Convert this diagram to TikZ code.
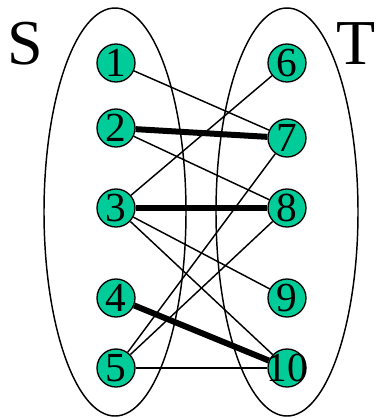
\documentclass[tikz,border=0pt]{standalone}
\usepackage{fontspec}
\setmainfont{Liberation Serif}
\usetikzlibrary{positioning}
\definecolor{vgreen}{RGB}{0,204,153}

\begin{document}
\begin{tikzpicture}[
  x=0.75pt, y=-0.75pt,
  vert/.style={draw, circle, fill=vgreen, line width=1pt, minimum size=28.5pt, inner sep=0pt,
    label={[font=\fontsize{31}{31}\selectfont, inner sep=0pt]center:#1}},
  edge/.style={line width=1.1pt},
  match/.style={line width=4.5pt},
  part/.style={draw, line width=1.1pt}
]
\useasboundingbox (0,0) rectangle (380,418);

% the two sides
\draw[part] (115,212) ellipse [x radius=71, y radius=204];
\draw[part] (287,212) ellipse [x radius=71, y radius=204];
\node[font=\fontsize{48}{48}\selectfont] (S) at (25,44) {S};
\node[font=\fontsize{48}{48}\selectfont] (T) at (356,44) {T};

% vertices
\node[vert=1] (v1) at (116,63) {};
\node[vert=2] (v2) at (116,128) {};
\node[vert=3] (v3) at (116,208) {};
\node[vert=4] (v4) at (116,298) {};
\node[vert=5] (v5) at (116,368) {};
\node[vert=6] (v6) at (287,63) {};
\node[vert=7] (v7) at (287,138) {};
\node[vert=8] (v8) at (287,208) {};
\node[vert=9] (v9) at (287,298) {};
\node[vert=10] (v10) at (287,368) {};

% edges
\draw[edge] (v1) -- (v7);
\draw[edge] (v2) -- (v8);
\draw[edge] (v3) -- (v6);
\draw[edge] (v3) -- (v9);
\draw[edge] (v3) -- (v10);
\draw[edge] (v5) -- (v7);
\draw[edge] (v5) -- (v8);
\draw[edge] (v5) -- (v10);
% matching
\draw[match] (v2) -- (v7);
\draw[match] (v3) -- (v8);
\draw[match] (v4) -- (v10);
\end{tikzpicture}
\end{document}
